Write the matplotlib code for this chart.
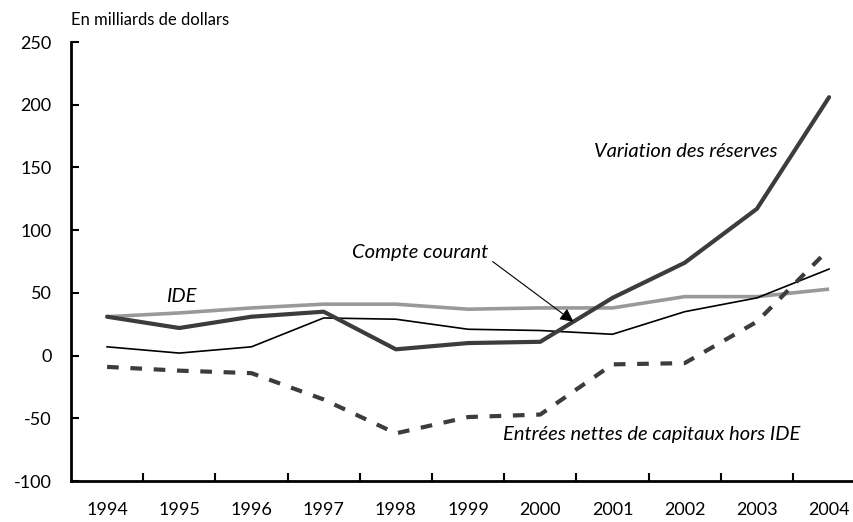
import matplotlib
import matplotlib.pyplot as plt
import numpy as np

matplotlib.use("Agg")

plt.rcParams["font.family"] = ["Lato", "DejaVu Sans"]
plt.rcParams["axes.unicode_minus"] = False

years = ["1994", "1995", "1996", "1997", "1998", "1999", "2000", "2001", "2002", "2003", "2004"]
reserves = [31, 22, 31, 35, 5, 10, 11, 46, 74, 117, 206]
ide = [31, 34, 38, 41, 41, 37, 38, 38, 47, 47, 53]
compte_courant = [7, 2, 7, 30, 29, 21, 20, 17, 35, 46, 69]
entrees_nettes = [-9, -12, -14, -35, -62, -49, -47, -7, -6, 27, 85]


def main() -> None:
    fig = plt.figure(figsize=(8.54, 5.22), dpi=100)
    ax = fig.add_axes([0.0831, 0.0785, 0.930, 0.841])
    x = np.arange(len(years))

    ax.plot(x, ide, color="#999999", lw=2.6, solid_capstyle="butt")
    ax.plot(x, compte_courant, color="black", lw=1.2)
    ax.plot(x, entrees_nettes, color="#3c3c3c", lw=3, dashes=(2.8, 2.8))
    ax.plot(x, reserves, color="#3c3c3c", lw=3, solid_capstyle="round")

    ax.set_xlim(-0.5, len(years) - 0.5)
    ax.set_ylim(-100, 250)
    ax.set_yticks(np.arange(-100, 251, 50))
    ax.set_xticks(x)
    ax.set_xticklabels(years)
    ax.set_xticks(np.arange(0.5, len(years) - 0.5), minor=True)

    for side in ("top", "right"):
        ax.spines[side].set_visible(False)
    for side in ("left", "bottom"):
        ax.spines[side].set_linewidth(2)

    ax.tick_params(axis="y", direction="in", length=6, width=1.5, pad=14, labelsize=13)
    ax.tick_params(axis="x", which="major", length=0, pad=15, labelsize=13)
    ax.tick_params(axis="x", which="minor", direction="in", length=6, width=1.5)

    fig.text(0.083, 0.962, "En milliards de dollars", fontsize=12, va="center", ha="left")

    ax.text(6.74, 163, "Variation des réserves", style="italic", fontsize=14.5, va="center")
    ax.text(3.39, 82.5, "Compte courant", style="italic", fontsize=14.5, va="center")
    ax.text(0.82, 47, "IDE", style="italic", fontsize=14.5, va="center")
    ax.text(5.48, -63, "Entrées nettes de capitaux hors IDE", style="italic", fontsize=14.5, va="center")
    ax.annotate("", xy=(6.46, 27), xytext=(5.34, 75),
                arrowprops=dict(arrowstyle="-|>", color="black", lw=0.8,
                                mutation_scale=20, shrinkA=0, shrinkB=0))

    fig.savefig("out.png", dpi=100)
    plt.close(fig)


if __name__ == "__main__":
    main()
